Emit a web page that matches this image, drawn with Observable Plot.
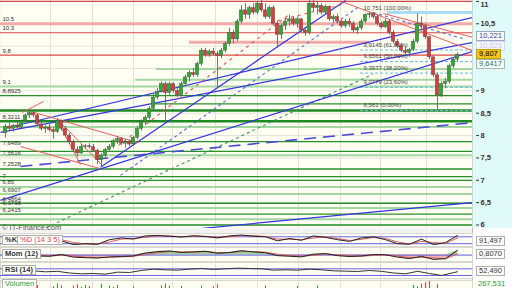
<!DOCTYPE html>
<html><head><meta charset="utf-8">
<script src="https://cdn.jsdelivr.net/npm/d3@7"></script>
<script src="https://cdn.jsdelivr.net/npm/@observablehq/plot@0.6"></script>
<style>
html,body{margin:0;padding:0;background:#fff;}
#chart{position:relative;width:512px;height:288px;overflow:hidden;font-family:"Liberation Sans",Arial,sans-serif;background:#f3f3f1}
#chart svg{position:absolute;left:0;}
.bg{position:absolute}
.box{position:absolute;font-size:7.5px;line-height:8px;padding:0 2px;border:1px solid #b0b0b0;background:#fff;color:#333;white-space:nowrap}
.txt{position:absolute;white-space:nowrap}
</style></head><body><div id="chart"></div>
<script>
// ---- daily candles (bar index 0..113) ----
const opens = [8.05,8.2,8.15,8.22,8.18,8.32,8.45,8.5,8.45,8.25,8.15,8.18,8.12,8.08,8.32,8.15,8.0,7.85,7.68,7.6,
  7.75,7.76,7.74,7.66,7.45,7.55,7.68,7.75,7.88,7.92,7.82,7.85,7.8,7.95,8.15,8.3,8.4,8.6,8.85,8.98,
  9.15,8.95,9.15,9.0,8.9,9.15,9.3,9.4,9.35,9.6,9.9,9.8,9.88,9.82,9.78,9.9,10.05,10.3,10.15,10.55,
  10.8,10.7,10.85,10.75,10.95,10.8,10.65,10.85,10.5,10.25,10.45,10.55,10.6,10.5,10.6,10.35,10.3,10.95,10.85,10.9,
  10.75,10.88,10.6,10.65,10.55,10.45,10.55,10.5,10.35,10.4,10.55,10.7,10.72,10.65,10.5,10.42,10.55,10.3,10.1,10.0,
  9.9,9.85,9.92,10.1,10.5,10.45,10.2,9.75,9.35,8.9,9.15,9.2,9.55,9.7];
const highs = [8.25,8.28,8.25,8.3,8.35,8.48,8.55,8.55,8.48,8.3,8.22,8.25,8.18,8.38,8.35,8.2,8.05,7.9,7.75,7.8,
  7.8,7.82,7.8,7.7,7.6,7.72,7.8,7.92,7.98,7.95,7.9,7.9,7.98,8.2,8.35,8.45,8.65,8.92,9.05,9.2,
  9.2,9.2,9.18,9.05,9.2,9.35,9.45,9.5,9.65,9.95,9.95,9.92,9.95,9.88,9.95,10.1,10.4,10.35,10.6,10.9,
  10.95,10.9,10.95,11.0,11.05,10.95,10.9,10.9,10.55,10.5,10.6,10.7,10.65,10.65,10.62,10.4,11.02,11.05,11.0,10.95,
  10.92,10.9,10.7,10.72,10.6,10.6,10.62,10.55,10.45,10.6,10.72,10.751,10.75,10.7,10.55,10.6,10.58,10.35,10.15,10.05,
  9.98,9.95,10.15,10.72,10.65,10.5,10.22,9.78,9.4,9.2,9.28,9.6,9.75,9.85];
const lows = [7.95,8.1,8.08,8.12,8.15,8.28,8.38,8.4,8.2,8.1,8.05,8.08,7.92,8.05,8.1,7.95,7.8,7.62,7.52,7.58,
  7.7,7.7,7.62,7.35,7.3,7.5,7.62,7.7,7.8,7.78,7.72,7.75,7.76,7.9,8.1,8.22,8.35,8.55,8.8,8.95,
  8.3,8.9,8.95,8.85,8.88,9.1,9.2,9.3,9.3,9.55,9.75,9.75,9.78,9.05,9.72,9.85,10.0,10.05,10.1,10.5,
  10.6,10.6,10.7,10.7,10.75,10.6,10.6,10.45,9.95,10.15,10.35,10.45,10.45,10.4,10.3,10.22,10.25,10.75,10.7,10.7,
  10.7,10.55,10.5,10.5,10.4,10.4,10.42,10.3,10.26,10.35,10.5,10.62,10.6,10.45,10.38,10.4,10.25,10.05,9.95,9.85,
  9.78,9.75,9.88,10.05,10.35,10.15,9.7,9.3,8.561,8.85,9.05,9.15,9.5,9.65];
const closes = [8.2,8.15,8.22,8.18,8.32,8.45,8.5,8.45,8.25,8.15,8.18,8.12,8.08,8.32,8.15,8.0,7.85,7.68,7.6,7.75,
  7.76,7.74,7.66,7.45,7.55,7.68,7.75,7.88,7.92,7.82,7.85,7.8,7.95,8.15,8.3,8.4,8.6,8.85,8.98,9.15,
  8.95,9.15,9.0,8.9,9.15,9.3,9.4,9.35,9.6,9.9,9.8,9.88,9.82,9.78,9.9,10.05,10.3,10.15,10.55,10.8,
  10.7,10.85,10.75,10.95,10.8,10.65,10.85,10.5,10.25,10.45,10.55,10.6,10.5,10.6,10.35,10.3,10.95,10.85,10.9,10.75,
  10.88,10.6,10.65,10.55,10.45,10.55,10.5,10.35,10.4,10.55,10.7,10.72,10.65,10.5,10.42,10.55,10.3,10.1,10.0,9.9,
  9.85,9.92,10.1,10.5,10.45,10.2,9.75,9.35,8.9,9.15,9.2,9.55,9.7,9.807];
const volumes = [220,180,250,200,260,300,240,280,520,230,200,260,480,560,510,300,260,500,540,470,
  520,490,250,300,560,280,500,470,520,260,230,250,480,300,280,260,300,320,280,510,
  560,500,300,280,490,260,240,280,300,500,250,270,480,540,260,250,300,280,260,240,
  300,270,250,280,260,500,280,250,300,240,260,270,250,490,260,280,300,320,510,280,
  260,250,240,270,260,250,280,240,260,270,250,260,280,300,270,260,300,280,260,250,
  270,300,520,480,560,600,640,380,540,300,280,260,270,267.531];

// ---- horizontal levels ----
const leftLabelLevels = [10.5,10.3,9.8,9.1,8.8925,8.3211,7.6489,7.5616,7.2528,7,6.85,6.6907,6.4864,6.3798,6.2415];
const redLevels = [11,10.3,9.8];
const pinkLevels = [10.5];
const pinkSpans = [[10.09, 46, 91]];            // [price, from bar, to bar]
const lightGreenLevels = [9.1,8.19,7.5616,6.85,6.6907,6.3798,6.13];
const lightGreenSpans = [[9.49, 37.75],[9.247, 32.5]]; // [price, from bar]
const darkGreenLevels = [8.8925,7.867,7.6489,7.2528,7.08,7,6.4864,6.2415,6.0];
const darkGreenSpans = [[8.71, 36.75]];
const heavyGreenLevels = [8.561,8.3211];
const fibLevels = [10.751,9.9145,9.6561,9.3977,9.0779,8.561];
const fibPercents = ["100,00%","61,80%","50,00%","38,20%","23,60%","0,00%"];
const fibFrom = 88.75;
const priceTicks = [6,6.5,7,7.5,8,8.5,9,9.5,10,10.5,11];
const monthStarts = [11.25,21.75,32,41.75,52.5,63,73.25,83.75,93.75,105.25];

// ---- trendlines [bar1, price1, bar2, price2] ----
const blueSolid = [[-1.25,8.07,116.75,10.08],[23.75,7.29,85,11.02],[2.5,8.22,116.75,10.64],[-1.25,6.55,116.75,9.88],[48.75,5.92,116.75,6.5]];
const blueLongDash = [[3.75,7.31,116.75,8.29]];
const blueDashed = [[28.75,7.11,88.75,10.91],[92,10.75,114.25,10.17]];
const greenDashed = [[8.75,5.88,91.75,9.37]];
const redSolid = [[4.25,8.52,9.5,8.76],[7,8.52,33.25,7.84],[3.75,7.755,23.75,7.26],[13,8.34,18.75,7.35],[13.25,8.34,24.25,7.33],[84,11.0,116.75,9.9],[94.5,10.73,116.75,10.2]];
const redDashed = [[28.25,7.78,71.25,10.73],[66.25,10.53,85,10.95]];

// ---- indicators ----
const stochBars = [14,17,20,23,26,29,32,35,38,41,44,47,50,53,56,59,62,65,68,71,74,77,80,83,86,89,92,95,98,101,104,107,110,113];
const stochK = [45,12,20,15,55,70,60,88,92,85,78,90,82,70,88,95,85,80,45,65,50,88,75,55,40,70,80,55,20,15,60,12,30,91.497];
const stochD = [55,30,18,16,35,60,65,75,88,88,80,84,85,76,80,90,90,83,60,58,55,70,80,65,48,58,74,66,35,18,40,30,22,70];
const momBars = [8,11,14,17,20,23,26,29,32,35,38,41,44,47,50,53,56,59,62,65,68,71,74,77,80,83,86,89,92,95,98,101,104,107,110,113];
const mom = [-0.15,-0.2,0.1,-0.35,-0.45,-0.5,-0.3,-0.25,-0.15,0.35,0.6,0.7,0.45,0.55,0.65,0.3,0.45,0.75,0.55,0.4,-0.1,-0.2,-0.3,0.15,0.25,-0.1,-0.25,-0.15,0.1,0.05,-0.35,-0.6,-0.2,-0.75,-0.6,0.807];
const momSignal = [-0.1,-0.15,-0.05,-0.15,-0.35,-0.45,-0.4,-0.3,-0.2,0.1,0.4,0.6,0.55,0.5,0.6,0.45,0.4,0.6,0.6,0.5,0.15,-0.1,-0.2,-0.05,0.2,0.05,-0.15,-0.2,-0.05,0.05,-0.15,-0.45,-0.4,-0.5,-0.65,0.2];
const rsiBars = [7,10,13,16,19,22,25,28,31,34,37,40,43,46,49,52,55,58,61,64,67,70,73,76,79,82,85,88,91,94,97,100,103,106,109,113];
const rsi = [58,52,55,45,40,42,38,50,48,60,68,64,62,68,72,66,70,74,72,70,62,64,62,68,64,58,56,54,60,55,45,40,55,42,30,52.49];

// ---- drawing ----
const fmt = v => String(v).replace(".", ",");
const chart = document.getElementById("chart");
const FONT = "Liberation Sans, Arial, sans-serif";
const X = {domain: [-1.25, 116.75], axis: null};
const cream = "#fefef3";
const grid = "#e2e2d8";
const blue = "#3434e0";
const darkGreen = "#27902a";
const lightGreen = "#a3d6a0";
const red = "#d94848";
const pink = "#f4aaa8";

function addDiv(cls, css, text) {
  const d = document.createElement("div");
  d.className = cls;
  Object.assign(d.style, css);
  if (text != null) d.textContent = text;
  chart.appendChild(d);
  return d;
}
function panel(top, height, y, marks) {
  const svg = Plot.plot({
    width: 512, height, marginLeft: 0, marginRight: 40, marginTop: 0, marginBottom: 0,
    x: X, y: {...y, axis: null},
    style: {background: "transparent", fontFamily: FONT, overflow: "visible"},
    marks
  });
  svg.style.top = top + "px";
  chart.appendChild(svg);
  return svg;
}

// axis column background
addDiv("bg", {left: "472px", top: "0px", width: "40px", height: "228px", background: "#e0fafa", borderLeft: "1px solid #9aa"});
addDiv("bg", {left: "472px", top: "228px", width: "40px", height: "60px", background: "#fff", borderLeft: "1px solid #bbb"});

const candles = closes.map((c, i) => ({i, o: opens[i], h: highs[i], l: lows[i], c, v: volumes[i]}));
const link = (data, o) => Plot.link(data, {x1: d => d[0], y1: d => d[1], x2: d => d[2], y2: d => d[3], clip: true, ...o});
// the two close labels near 7,6 are pushed apart so both stay legible
const labelDy = d => d === 7.6489 ? -8.5 : d === 7.5616 ? -2.5 : -4.5;
// ticks hidden behind the value boxes carry no label
const labelledTicks = priceTicks.filter(t => t !== 10 && t !== 9.5 && t !== 11);
const axisStyle = {anchor: "right", tickFormat: fmt, tickSize: 0, tickPadding: 2, dx: 6, fontSize: 7.5, fontWeight: "bold", color: "#333"};

const main = panel(0, 228, {domain: [6, 11], range: [224.5, 0.95]}, [
  Plot.frame({fill: cream, stroke: null}),
  Plot.gridY(priceTicks, {stroke: grid, strokeOpacity: 1}),
  Plot.gridX(monthStarts, {stroke: grid, strokeOpacity: 1}),
  // support / resistance levels
  Plot.ruleY(lightGreenLevels, {stroke: lightGreen, strokeWidth: 2}),
  Plot.ruleY(lightGreenSpans, {y: d => d[0], x1: d => d[1], x2: 116.75, stroke: lightGreen, strokeWidth: 2}),
  Plot.ruleY(darkGreenLevels, {stroke: darkGreen, strokeWidth: 1.3}),
  Plot.ruleY(darkGreenSpans, {y: d => d[0], x1: d => d[1], x2: 116.75, stroke: darkGreen, strokeWidth: 1.3}),
  Plot.ruleY(heavyGreenLevels, {stroke: "#1f8a22", strokeWidth: 2.6}),
  Plot.ruleY(pinkLevels, {stroke: pink, strokeWidth: 3}),
  Plot.ruleY(pinkSpans, {y: d => d[0], x1: d => d[1], x2: d => d[2], stroke: pink, strokeWidth: 3}),
  Plot.ruleY(redLevels, {stroke: red, strokeWidth: 1.2}),
  // Fibonacci retracement
  Plot.ruleY(fibLevels.slice(0, 1), {x1: 95.5, x2: 116.75, stroke: "#a8dcf4", strokeWidth: 3}),
  Plot.ruleY(fibLevels.slice(1), {x1: fibFrom, x2: 116.75, stroke: "#62bde8", strokeWidth: 1, strokeDasharray: "3,2"}),
  // trendlines
  link(greenDashed, {stroke: "#4b9a6a", strokeWidth: 1.2, strokeDasharray: "3,3"}),
  link(blueLongDash, {stroke: "#4a4ad4", strokeWidth: 1.6, strokeDasharray: "12,7"}),
  link(blueDashed, {stroke: "#5b6fd6", strokeWidth: 1.1, strokeDasharray: "3,3"}),
  link(blueSolid, {stroke: blue, strokeWidth: 1.2}),
  link(redDashed, {stroke: "#e05050", strokeWidth: 1.1, strokeDasharray: "3,4"}),
  link(redSolid, {stroke: "#ec5a5a", strokeWidth: 1}),
  // candlesticks
  Plot.ruleX(candles, {x: "i", y1: "l", y2: "h", stroke: "#666", strokeWidth: 0.9, clip: true}),
  Plot.rect(candles, {x1: d => d.i - 0.42, x2: d => d.i + 0.42, y1: "o", y2: "c",
    fill: d => d.c >= d.o ? "#2faa2f" : "#d83c3c", stroke: "#444", strokeWidth: 0.4, clip: true}),
  // level labels
  Plot.text(leftLabelLevels.filter(d => labelDy(d) === -4.5), {x: -1.25, y: d => d, text: fmt, textAnchor: "start", dx: 2, dy: -4.5, fontSize: 6, fill: "#333"}),
  Plot.text([7.6489], {x: -1.25, y: d => d, text: fmt, textAnchor: "start", dx: 2, dy: labelDy(7.6489), fontSize: 6, fill: "#333"}),
  Plot.text([7.5616], {x: -1.25, y: d => d, text: fmt, textAnchor: "start", dx: 2, dy: labelDy(7.5616), fontSize: 6, fill: "#333"}),
  Plot.text(fibLevels, {x: fibFrom + 0.75, y: d => d, text: (d, i) => `${fmt(d)} (${fibPercents[i]})`,
    textAnchor: "start", dy: -5, fontSize: 6, fill: "#444"}),
  // price axis: small dashes just right of the frame, then the labels
  Plot.ruleY(priceTicks, {x1: 117.75, x2: 118.5, stroke: "#333", strokeWidth: 1}),
  Plot.axisY(labelledTicks, axisStyle),
  Plot.axisY([11], {...axisStyle, dy: 3})
]);
const py = v => main.scale("y").apply(v);

// value boxes on the price axis
addDiv("box", {left: "476px", top: (py(10.221) - 5) + "px", color: "#2a3c9c", borderColor: "#9aa8c8"}, fmt(10.221));
addDiv("box", {left: "476px", top: (py(10.023) - 4) + "px", color: "#c4c6ea", borderColor: "#d4d8ee", background: "#f6f8ff"}, fmt(10.023));
addDiv("box", {left: "476px", top: (py(9.6417) - 2.5) + "px", color: "#2b6f74", borderColor: "#a8b8b0", background: "#f4fff8"}, fmt(9.6417));
addDiv("box", {left: "476px", top: (py(closes[closes.length - 1]) - 5) + "px", color: "#000", background: "#f2c41c", borderColor: "#c9a000"}, fmt(closes[closes.length - 1]));
addDiv("txt", {left: "2px", top: "223px", fontSize: "7.5px", color: "#555"}, "© IT-Finance.com");

// stochastic %K %D
const kData = stochBars.map((i, j) => ({i, k: stochK[j], d: stochD[j]}));
panel(233, 13, {domain: [0, 100], range: [12.5, 1]}, [
  Plot.frame({fill: cream, stroke: "#d8d8d0"}),
  Plot.gridX(monthStarts, {stroke: grid, strokeOpacity: 1}),
  Plot.ruleY([20, 80], {stroke: "#6464e6", strokeWidth: 1}),
  Plot.line(kData, {x: "i", y: "d", stroke: "#e05a5a", strokeWidth: 1}),
  Plot.line(kData, {x: "i", y: "k", stroke: "#222", strokeWidth: 1})
]);
// momentum
const mData = momBars.map((i, j) => ({i, m: mom[j], s: momSignal[j]}));
panel(247, 14, {domain: [-1.1, 1.3], range: [14, 0]}, [
  Plot.frame({fill: cream, stroke: "#d8d8d0"}),
  Plot.gridX(monthStarts, {stroke: grid, strokeOpacity: 1}),
  Plot.areaY(mData, {x: "i", y1: 0, y2: d => Math.max(d.m, 0), fill: "#9ed49a"}),
  Plot.areaY(mData, {x: "i", y1: 0, y2: d => Math.min(d.m, 0), fill: "#eeb0ae"}),
  Plot.ruleY([0], {stroke: "#5a5ae0", strokeWidth: 1}),
  Plot.line(mData, {x: "i", y: "s", stroke: "#e05a5a", strokeWidth: 1}),
  Plot.line(mData, {x: "i", y: "m", stroke: "#222", strokeWidth: 1})
]);
// RSI
const rData = rsiBars.map((i, j) => ({i, r: rsi[j]}));
panel(262, 16, {domain: [0, 100], range: [18, 1.3]}, [
  Plot.frame({fill: cream, stroke: "#d8d8d0"}),
  Plot.gridX(monthStarts, {stroke: grid, strokeOpacity: 1}),
  Plot.ruleY([30, 70], {stroke: "#6464e6", strokeWidth: 1}),
  Plot.line(rData, {x: "i", y: "r", stroke: "#333", strokeWidth: 1, clip: true})
]);
// volume
panel(280, 22, {domain: [0, 640], range: [22, 1]}, [
  Plot.frame({fill: cream, stroke: "#d8d8d0"}),
  Plot.gridX(monthStarts, {stroke: grid, strokeOpacity: 1}),
  Plot.ruleX(candles, {x: "i", y1: 0, y2: "v", stroke: d => d.c >= d.o ? "#2aa02a" : "#e04040", strokeWidth: 1})
]);

// indicator captions and last values
addDiv("box", {left: "2px", top: "235px", fontWeight: "bold"}, "%K");
addDiv("box", {left: "17px", top: "235px", color: "#e04040"}, "%D (14 3 5)");
addDiv("box", {left: "2px", top: "249px", fontWeight: "bold"}, "Mom (12)");
addDiv("box", {left: "2px", top: "265px", fontWeight: "bold"}, "RSI (14)");
addDiv("box", {left: "2px", top: "279px", color: "#2a9a2a"}, "Volumen");
addDiv("box", {left: "476px", top: "236px"}, fmt(stochK[stochK.length - 1]));
addDiv("box", {left: "476px", top: "249px"}, "0,8070");
addDiv("box", {left: "476px", top: "266px"}, "52,490");
addDiv("txt", {left: "478px", top: "279px", fontSize: "7.5px", lineHeight: "9px", color: "#2a9a2a"}, "267,531");
</script></body></html>
